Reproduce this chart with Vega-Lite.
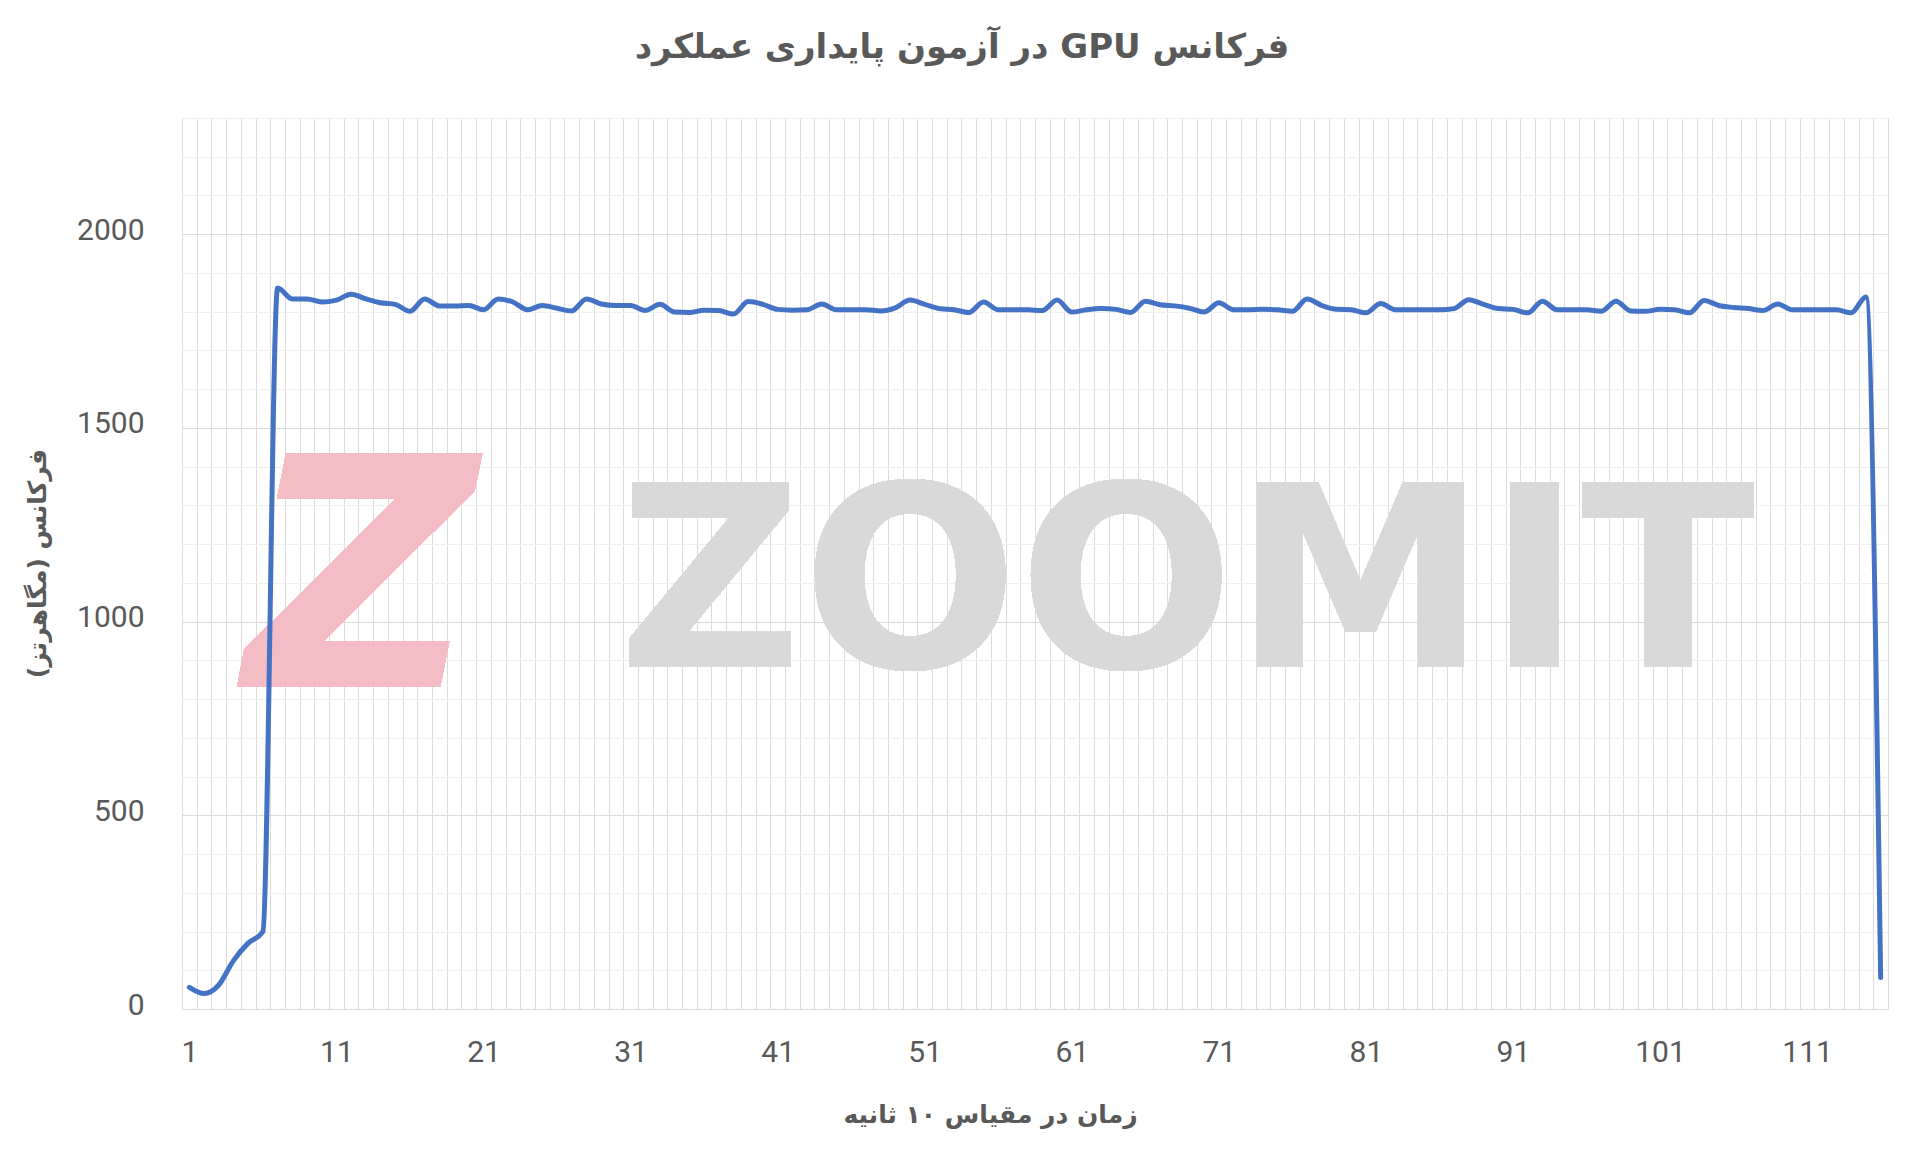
{
  "$schema": "https://vega.github.io/schema/vega-lite/v6.json",
  "width": 1706,
  "height": 891,
  "autosize": "none",
  "padding": {"left": 182, "top": 118, "right": 32, "bottom": 152},
  "background": "white",
  "config": {"view": {"stroke": null}},
  "title": {
    "text": "\u202bفرکانس GPU در آزمون پایداری عملکرد\u202c",
    "font": "DejaVu Sans",
    "fontSize": 34,
    "fontWeight": "bold",
    "color": "#595959",
    "anchor": "middle",
    "dx": -73,
    "offset": 34
  },
  "data": {"values": [
    {"t":1,"f":56},{"t":2,"f":40},{"t":3,"f":62},{"t":4,"f":125},{"t":5,"f":170},{"t":6,"f":200},
    {"t":7,"f":1861},{"t":8,"f":1833},{"t":9,"f":1833},{"t":10,"f":1825},{"t":11,"f":1830},{"t":12,"f":1845},
    {"t":13,"f":1833},{"t":14,"f":1823},{"t":15,"f":1819},{"t":16,"f":1801},{"t":17,"f":1833},{"t":18,"f":1815},
    {"t":19,"f":1815},{"t":20,"f":1816},{"t":21,"f":1805},{"t":22,"f":1833},{"t":23,"f":1825},{"t":24,"f":1805},
    {"t":25,"f":1816},{"t":26,"f":1809},{"t":27,"f":1802},{"t":28,"f":1833},{"t":29,"f":1820},{"t":30,"f":1816},
    {"t":31,"f":1816},{"t":32,"f":1803},{"t":33,"f":1819},{"t":34,"f":1799},{"t":35,"f":1798},{"t":36,"f":1804},
    {"t":37,"f":1803},{"t":38,"f":1794},{"t":39,"f":1826},{"t":40,"f":1819},{"t":41,"f":1806},{"t":42,"f":1804},
    {"t":43,"f":1805},{"t":44,"f":1820},{"t":45,"f":1805},{"t":46,"f":1805},{"t":47,"f":1805},{"t":48,"f":1802},
    {"t":49,"f":1810},{"t":50,"f":1830},{"t":51,"f":1819},{"t":52,"f":1808},{"t":53,"f":1805},{"t":54,"f":1798},
    {"t":55,"f":1825},{"t":56,"f":1805},{"t":57,"f":1805},{"t":58,"f":1805},{"t":59,"f":1803},{"t":60,"f":1830},
    {"t":61,"f":1799},{"t":62,"f":1805},{"t":63,"f":1808},{"t":64,"f":1806},{"t":65,"f":1798},{"t":66,"f":1827},
    {"t":67,"f":1818},{"t":68,"f":1815},{"t":69,"f":1809},{"t":70,"f":1799},{"t":71,"f":1823},{"t":72,"f":1805},
    {"t":73,"f":1805},{"t":74,"f":1806},{"t":75,"f":1805},{"t":76,"f":1801},{"t":77,"f":1833},{"t":78,"f":1816},
    {"t":79,"f":1806},{"t":80,"f":1805},{"t":81,"f":1797},{"t":82,"f":1821},{"t":83,"f":1805},{"t":84,"f":1805},
    {"t":85,"f":1805},{"t":86,"f":1805},{"t":87,"f":1808},{"t":88,"f":1831},{"t":89,"f":1819},{"t":90,"f":1808},
    {"t":91,"f":1806},{"t":92,"f":1797},{"t":93,"f":1827},{"t":94,"f":1805},{"t":95,"f":1805},{"t":96,"f":1805},
    {"t":97,"f":1801},{"t":98,"f":1827},{"t":99,"f":1802},{"t":100,"f":1801},{"t":101,"f":1806},{"t":102,"f":1805},
    {"t":103,"f":1797},{"t":104,"f":1829},{"t":105,"f":1816},{"t":106,"f":1811},{"t":107,"f":1808},{"t":108,"f":1803},
    {"t":109,"f":1820},{"t":110,"f":1805},{"t":111,"f":1805},{"t":112,"f":1805},{"t":113,"f":1805},{"t":114,"f":1797},
    {"t":115,"f":1838},{"t":116,"f":81}
  ]},
  "encoding": {
    "x": {
      "field": "t", "type": "quantitative",
      "scale": {"domain": [0.5, 116.5], "nice": false, "zero": false},
      "axis": {
        "values": [0.5,1.5,2.5,3.5,4.5,5.5,6.5,7.5,8.5,9.5,10.5,11.5,12.5,13.5,14.5,15.5,16.5,17.5,18.5,19.5,20.5,21.5,22.5,23.5,24.5,25.5,26.5,27.5,28.5,29.5,30.5,31.5,32.5,33.5,34.5,35.5,36.5,37.5,38.5,39.5,40.5,41.5,42.5,43.5,44.5,45.5,46.5,47.5,48.5,49.5,50.5,51.5,52.5,53.5,54.5,55.5,56.5,57.5,58.5,59.5,60.5,61.5,62.5,63.5,64.5,65.5,66.5,67.5,68.5,69.5,70.5,71.5,72.5,73.5,74.5,75.5,76.5,77.5,78.5,79.5,80.5,81.5,82.5,83.5,84.5,85.5,86.5,87.5,88.5,89.5,90.5,91.5,92.5,93.5,94.5,95.5,96.5,97.5,98.5,99.5,100.5,101.5,102.5,103.5,104.5,105.5,106.5,107.5,108.5,109.5,110.5,111.5,112.5,113.5,114.5,115.5,116.5],
        "labelExpr": "((datum.value - 0.5) % 10 === 0 && datum.value < 115) ? format(datum.value + 0.5, 'd') : ''",
        "labelOffset": 7.35,
        "labelOverlap": false,
        "labelFlush": false,
        "labelBound": false,
        "ticks": false,
        "domain": false,
        "grid": true,
        "gridColor": "#dcdcdc",
        "gridWidth": 1,
        "labelFont": "Roboto",
        "labelFontSize": 30,
        "labelColor": "#595959",
        "labelPadding": 28,
        "title": "\u202bزمان در مقیاس ۱۰ ثانیه\u202c",
        "titleFont": "DejaVu Sans",
        "titleFontSize": 25,
        "titleFontWeight": "bold",
        "titleColor": "#595959",
        "titleX": 808,
        "titleY": 105,
        "titleAlign": "center",
        "titleBaseline": "middle"
      }
    },
    "y": {
      "field": "f", "type": "quantitative",
      "scale": {"domain": [0, 2300], "nice": false},
      "axis": {
        "values": [0,100,200,300,400,500,600,700,800,900,1000,1100,1200,1300,1400,1500,1600,1700,1800,1900,2000,2100,2200,2300],
        "labelExpr": "datum.value % 500 === 0 ? datum.label : ''",
        "format": "d",
        "labelOverlap": false,
        "labelFlush": false,
        "labelOffset": -4,
        "ticks": false,
        "domain": false,
        "grid": true,
        "gridColor": {"condition": {"test": "datum.value % 500 === 0", "value": "#d9d9d9"}, "value": "#efefef"},
        "gridWidth": 1,
        "labelFont": "Roboto",
        "labelFontSize": 30,
        "labelColor": "#595959",
        "labelPadding": 38,
        "title": "\u202bفرکانس (مگاهرتز)\u202c",
        "titleFont": "DejaVu Sans",
        "titleFontSize": 25,
        "titleFontWeight": "bold",
        "titleColor": "#595959",
        "titleAngle": -90,
        "titleX": -145,
        "titleY": 445,
        "titleAlign": "center",
        "titleBaseline": "middle"
      }
    }
  },
  "layer": [
    {
      "mark": {"type": "text", "text": "Z", "font": "DejaVu Sans", "fontWeight": "bold", "fontStyle": "italic", "fontSize": 320, "color": "#f4bcc5", "opacity": 0.6, "align": "center", "baseline": "middle"},
      "encoding": {"x": {"datum": 12.7}, "y": {"datum": 1080}}
    },
    {
      "mark": {"type": "text", "text": "ZOOMIT", "font": "DejaVu Sans", "fontWeight": "bold", "fontSize": 254, "color": "#d9d9d9", "opacity": 0.85, "align": "center", "baseline": "middle"},
      "encoding": {"x": {"datum": 68.8}, "y": {"datum": 1080}}
    },
    {
      "mark": {"type": "line", "interpolate": "monotone", "color": "#4472C4", "strokeWidth": 5, "strokeCap": "round", "strokeJoin": "round"}
    }
  ]
}
